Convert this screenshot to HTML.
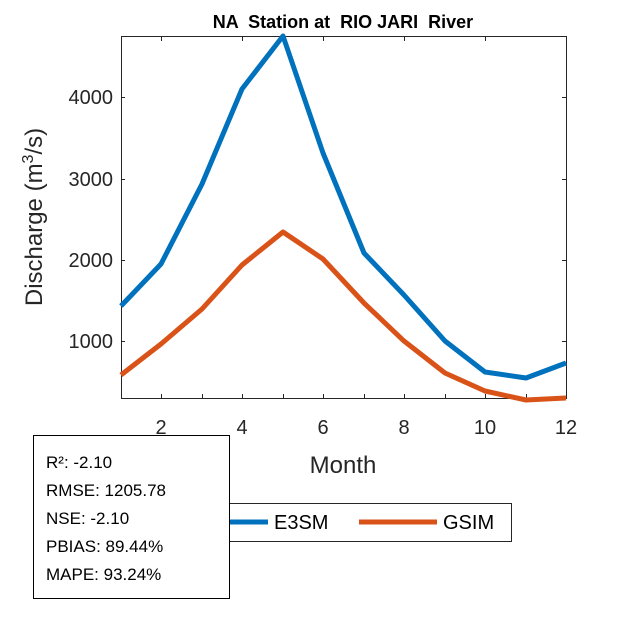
<!DOCTYPE html>
<html><head><style>body{margin:0;background:#fff}</style></head><body>
<svg width="625" height="625" xmlns="http://www.w3.org/2000/svg" font-family="Liberation Sans, Arial, sans-serif">
<rect width="625" height="625" fill="#fff"/>
<text x="343" y="28" font-size="18" font-weight="bold" text-anchor="middle" fill="#000" xml:space="preserve" style="white-space:pre">NA  Station at  RIO JARI  River</text>
<g stroke="#262626" stroke-width="1" fill="none">
<rect x="121.5" y="36.5" width="445" height="362"/>
<line x1="161.5" y1="398" x2="161.5" y2="394"/><line x1="202.5" y1="398" x2="202.5" y2="394"/>
<line x1="242.5" y1="398" x2="242.5" y2="394"/><line x1="283.5" y1="398" x2="283.5" y2="394"/>
<line x1="323.5" y1="398" x2="323.5" y2="394"/><line x1="364.5" y1="398" x2="364.5" y2="394"/>
<line x1="404.5" y1="398" x2="404.5" y2="394"/><line x1="445.5" y1="398" x2="445.5" y2="394"/>
<line x1="485.5" y1="398" x2="485.5" y2="394"/><line x1="526.5" y1="398" x2="526.5" y2="394"/>
<line x1="161.5" y1="37" x2="161.5" y2="41"/><line x1="242.5" y1="37" x2="242.5" y2="41"/>
<line x1="323.5" y1="37" x2="323.5" y2="41"/><line x1="404.5" y1="37" x2="404.5" y2="41"/>
<line x1="485.5" y1="37" x2="485.5" y2="41"/>
<line x1="121" y1="97.5" x2="125" y2="97.5"/><line x1="121" y1="179.5" x2="125" y2="179.5"/>
<line x1="121" y1="260.5" x2="125" y2="260.5"/><line x1="121" y1="341.5" x2="125" y2="341.5"/>
<line x1="566" y1="97.5" x2="562" y2="97.5"/><line x1="566" y1="179.5" x2="562" y2="179.5"/>
<line x1="566" y1="260.5" x2="562" y2="260.5"/><line x1="566" y1="341.5" x2="562" y2="341.5"/>
</g>
<g font-size="20" fill="#262626" text-anchor="middle">
<text x="161" y="434">2</text><text x="242" y="434">4</text><text x="323" y="434">6</text>
<text x="404" y="434">8</text><text x="485" y="434">10</text><text x="566" y="434">12</text>
<text x="343" y="473" font-size="24">Month</text>
</g>
<g font-size="20" fill="#262626" text-anchor="end">
<text x="113" y="104">4000</text><text x="113" y="186">3000</text>
<text x="113" y="267">2000</text><text x="113" y="348">1000</text>
</g>
<text transform="translate(42,217) rotate(-90)" font-size="24" fill="#262626" text-anchor="middle">Discharge (m<tspan font-size="16" dy="-9">3</tspan><tspan dy="9">/s)</tspan></text>
<polyline fill="none" stroke="#0072BD" stroke-width="5" stroke-linejoin="round" points="121,306 161,264 202,184 242,89 283,36 323,153 364,253 404,295 445,341 485,372 526,378 566,363"/>
<polyline fill="none" stroke="#D95319" stroke-width="5" stroke-linejoin="round" points="121,375 161,344 202,309 242,265 283,232 323,259 364,303 404,341 445,373 485,391 526,400 566,398"/>
<rect x="200.5" y="503.5" width="311" height="38" fill="#fff" stroke="#262626"/>
<line x1="230" y1="522" x2="268" y2="522" stroke="#0072BD" stroke-width="5"/>
<text x="274" y="529" font-size="20" fill="#000">E3SM</text>
<line x1="359" y1="522" x2="437" y2="522" stroke="#D95319" stroke-width="5"/>
<text x="443" y="529" font-size="20" fill="#000">GSIM</text>
<rect x="33.5" y="435.5" width="196" height="163" fill="#fff" stroke="#000"/>
<g font-size="17" fill="#000">
<text x="46" y="468">R²: -2.10</text>
<text x="46" y="496">RMSE: 1205.78</text>
<text x="46" y="524">NSE: -2.10</text>
<text x="46" y="552">PBIAS: 89.44%</text>
<text x="46" y="580">MAPE: 93.24%</text>
</g>
</svg>
</body></html>
